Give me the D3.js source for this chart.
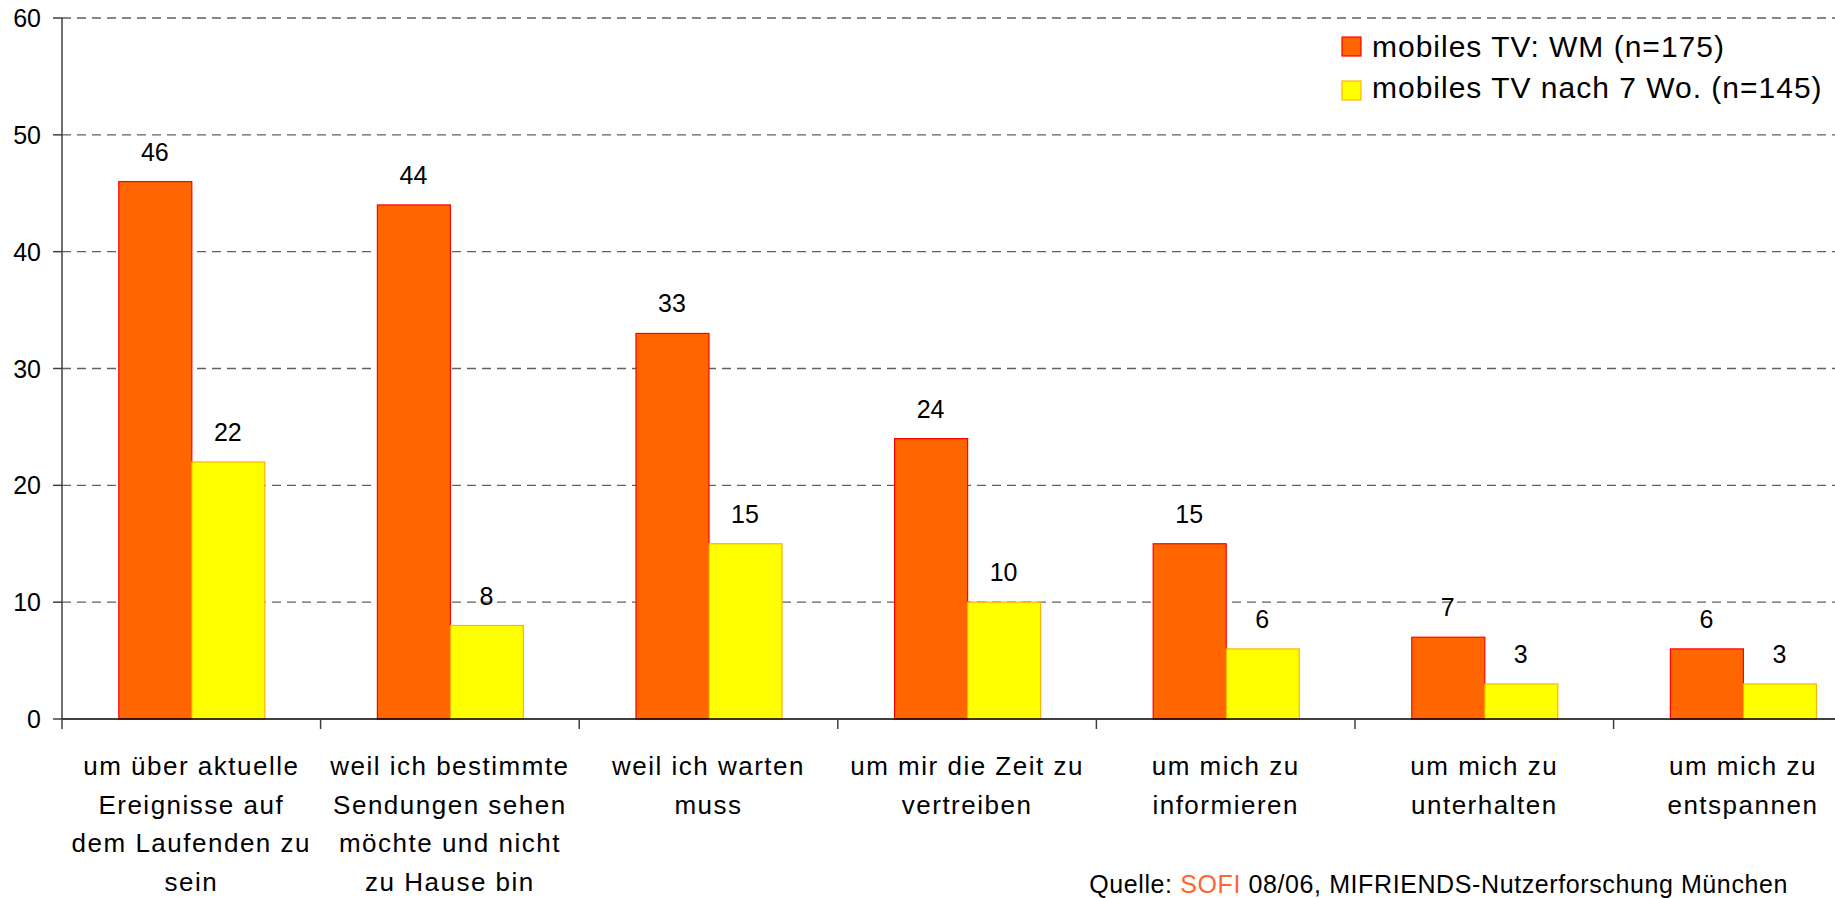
<!DOCTYPE html>
<html>
<head>
<meta charset="utf-8">
<script src="https://cdn.jsdelivr.net/npm/d3@7"></script>
<style>
  html, body { margin: 0; padding: 0; background: #fff; }
  svg { display: block; font-family: "Liberation Sans", Arial, sans-serif; }
</style>
</head>
<body>
<svg id="chart" width="1835" height="898"></svg>
<script>
const categories = [
  ["um über aktuelle", "Ereignisse auf", "dem Laufenden zu", "sein"],
  ["weil ich bestimmte", "Sendungen sehen", "möchte und nicht", "zu Hause bin"],
  ["weil ich warten", "muss"],
  ["um mir die Zeit zu", "vertreiben"],
  ["um mich zu", "informieren"],
  ["um mich zu", "unterhalten"],
  ["um mich zu", "entspannen"]
];
const seriesNames = ["mobiles TV: WM (n=175)", "mobiles TV nach 7 Wo. (n=145)"];
const valuesWM = [46, 44, 33, 24, 15, 7, 6];
const values7Wo = [22, 8, 15, 10, 6, 3, 3];
const yTicks = [0, 10, 20, 30, 40, 50, 60];

(function () {
const fills = ["#FF6600", "#FFFF00"];
const strokes = ["#FF0000", "#FFB300"];

const svg = d3.select("#chart");
const mLeft = 62, mTop = 18, mBottom = 719;
const catStep = 258.6;

const catKeys = categories.map((c, i) => i);
const x = d3.scaleBand().domain(catKeys).range([mLeft, mLeft + catStep * categories.length]).padding(0);
const x1 = d3.scaleBand().domain([0, 1]).range([0, x.bandwidth()]).paddingInner(0).paddingOuter(0.771);
const y = d3.scaleLinear().domain([0, 60]).range([mBottom, mTop]);

// gridlines
svg.append("g").selectAll("line").data(yTicks.filter(t => t > 0)).join("line")
  .attr("x1", mLeft).attr("x2", 1835)
  .attr("y1", d => y(d)).attr("y2", d => y(d))
  .attr("stroke", "#606060").attr("stroke-width", 1.3)
  .attr("stroke-dasharray", "9,6");

// bars
const data = catKeys.map(i => [valuesWM[i], values7Wo[i]]);
const groups = svg.append("g").selectAll("g").data(data).join("g")
  .attr("transform", (d, i) => `translate(${x(i)},0)`);
groups.selectAll("rect").data(d => d.map((v, s) => ({v, s}))).join("rect")
  .attr("x", d => x1(d.s) + 0.5)
  .attr("y", d => y(d.v))
  .attr("width", x1.bandwidth())
  .attr("height", d => y(0) - y(d.v))
  .attr("fill", d => fills[d.s])
  .attr("stroke", d => strokes[d.s])
  .attr("stroke-width", 1.2);
groups.selectAll("text").data(d => d.map((v, s) => ({v, s}))).join("text")
  .attr("x", d => x1(d.s) + x1.bandwidth() / 2)
  .attr("y", d => y(d.v) - 21)
  .attr("text-anchor", "middle")
  .attr("font-size", 25)
  .attr("fill", "#000")
  .text(d => d.v);

// y axis
const yAxis = svg.append("g");
yAxis.append("line").attr("x1", mLeft).attr("x2", mLeft).attr("y1", mTop).attr("y2", mBottom)
  .attr("stroke", "#404040").attr("stroke-width", 1.5);
yAxis.selectAll("line.tick").data(yTicks).join("line").attr("class", "tick")
  .attr("x1", mLeft - 9).attr("x2", mLeft).attr("y1", d => y(d)).attr("y2", d => y(d))
  .attr("stroke", "#404040").attr("stroke-width", 1.5);
yAxis.selectAll("text").data(yTicks).join("text")
  .attr("x", 41).attr("y", d => y(d)).attr("dy", "0.36em")
  .attr("text-anchor", "end").attr("font-size", 25).attr("fill", "#000")
  .text(d => d);

// x axis
const xAxis = svg.append("g");
xAxis.append("line").attr("x1", mLeft).attr("x2", 1835).attr("y1", mBottom).attr("y2", mBottom)
  .attr("stroke", "#000").attr("stroke-width", 1.5);
xAxis.selectAll("line.tick").data(d3.range(categories.length + 1)).join("line").attr("class", "tick")
  .attr("x1", d => mLeft + d * x.step()).attr("x2", d => mLeft + d * x.step())
  .attr("y1", mBottom).attr("y2", mBottom + 10)
  .attr("stroke", "#404040").attr("stroke-width", 1.5);
const labels = xAxis.selectAll("text").data(categories).join("text")
  .attr("text-anchor", "middle").attr("font-size", 26).attr("letter-spacing", "1.5px")
  .attr("fill", "#000");
labels.each(function(lines, i) {
  const t = d3.select(this);
  lines.forEach((ln, k) => {
    t.append("tspan").attr("x", x(i) + x.bandwidth() / 2).attr("y", 775 + k * 38.5).text(ln);
  });
});

// legend
const legend = svg.append("g");
seriesNames.forEach((name, i) => {
  legend.append("rect").attr("x", 1342).attr("y", 37 + i * 44).attr("width", 19).attr("height", 19)
    .attr("fill", fills[i]).attr("stroke", strokes[i]).attr("stroke-width", 1.2);
  legend.append("text").attr("x", 1372).attr("y", 56.5 + i * 41)
    .attr("font-size", 30).attr("letter-spacing", "1px").attr("fill", "#000").text(name);
});

// source
const src = svg.append("text").attr("x", 1788).attr("y", 893).attr("text-anchor", "end")
  .attr("font-size", 25).attr("letter-spacing", "0.6px").attr("fill", "#000");
src.append("tspan").text("Quelle: ");
src.append("tspan").attr("fill", "#FF6633").text("SOFI");
src.append("tspan").text(" 08/06, MIFRIENDS-Nutzerforschung München");
})();
</script>
</body>
</html>
